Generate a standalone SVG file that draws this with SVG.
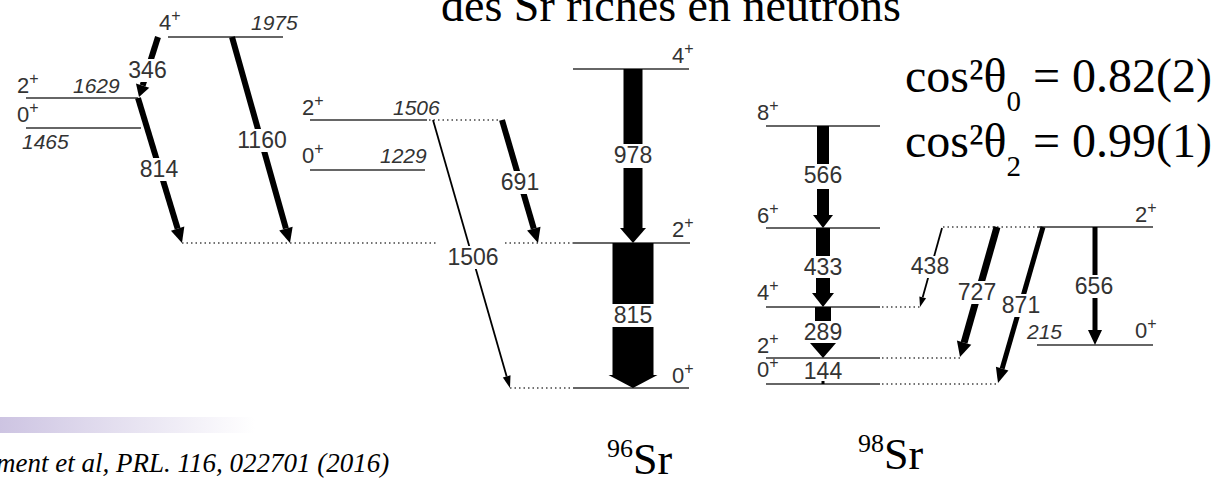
<svg xmlns="http://www.w3.org/2000/svg" width="1232" height="480" viewBox="0 0 1232 480">
<defs>
<linearGradient id="bar" x1="0" y1="0" x2="1" y2="0">
<stop offset="0" stop-color="#cdc4e2"/>
<stop offset="1" stop-color="#ffffff"/>
</linearGradient>
<style>
.lv{stroke:#333;stroke-width:1.5;fill:none}
.dot{stroke:#444;stroke-width:1.5;stroke-dasharray:1.5 3;fill:none}
.sp{font-family:"Liberation Sans",Arial,sans-serif;font-size:22px;fill:#333}
.sup{font-size:16px}
.en{font-family:"Liberation Sans",Arial,sans-serif;font-style:italic;font-size:21px;fill:#333}
.tl{font-family:"Liberation Sans",Arial,sans-serif;font-size:23px;fill:#333;text-anchor:middle}
.bg{fill:#fff}
.ar{fill:#000}
.serif{font-family:"Liberation Serif","DejaVu Serif","Times New Roman",serif;fill:#000}
.cite{font-family:"Liberation Serif","Times New Roman",serif;font-style:italic;fill:#000}
</style>
</defs>
<rect width="1232" height="480" fill="#fff"/>

<text class="serif" x="441" y="21" font-size="46">des Sr riches en neutrons</text>

<!-- 96Sr levels -->
<g id="lvl96-4p-1975">
<line class="lv" x1="168" y1="37" x2="283" y2="37"/>
<text class="sp" x="159" y="30">4<tspan class="sup" dy="-9">+</tspan></text>
<text class="en" x="251" y="30">1975</text>
</g>
<g id="lvl96-2p-1629">
<line class="lv" x1="26" y1="98" x2="138" y2="98"/>
<text class="sp" x="17" y="93">2<tspan class="sup" dy="-9">+</tspan></text>
<text class="en" x="73" y="93">1629</text>
</g>
<g id="lvl96-0p-1465">
<line class="lv" x1="26" y1="128" x2="141" y2="128"/>
<text class="sp" x="17" y="122">0<tspan class="sup" dy="-9">+</tspan></text>
<text class="en" x="22" y="149">1465</text>
</g>
<g id="lvl96-2p-1506">
<line class="lv" x1="310" y1="120" x2="427" y2="120"/>
<line class="dot" x1="429" y1="120" x2="500" y2="120"/>
<text class="sp" x="302" y="115">2<tspan class="sup" dy="-9">+</tspan></text>
<text class="en" x="393" y="115">1506</text>
</g>
<g id="lvl96-0p-1229">
<line class="lv" x1="310" y1="170" x2="425" y2="170"/>
<text class="sp" x="302" y="163">0<tspan class="sup" dy="-9">+</tspan></text>
<text class="en" x="380" y="163">1229</text>
</g>
<g id="lvl96-4p">
<line class="lv" x1="573" y1="69" x2="689" y2="69"/>
<text class="sp" x="672" y="63">4<tspan class="sup" dy="-9">+</tspan></text>
</g>
<g id="lvl96-2p">
<line class="dot" x1="182" y1="243" x2="438" y2="243"/>
<line class="dot" x1="505" y1="243" x2="573" y2="243"/>
<line class="lv" x1="573" y1="243" x2="690" y2="243"/>
<text class="sp" x="672" y="237">2<tspan class="sup" dy="-9">+</tspan></text>
</g>
<g id="lvl96-0p">
<line class="dot" x1="510" y1="388" x2="573" y2="388"/>
<line class="lv" x1="573" y1="388" x2="689" y2="388"/>
<text class="sp" x="672" y="383">0<tspan class="sup" dy="-9">+</tspan></text>
</g>

<!-- 98Sr levels -->
<g id="lvl98-8p">
<line class="lv" x1="766" y1="126" x2="880" y2="126"/>
<text class="sp" x="757" y="120">8<tspan class="sup" dy="-9">+</tspan></text>
</g>
<g id="lvl98-6p">
<line class="lv" x1="766" y1="228" x2="880" y2="228"/>
<text class="sp" x="757" y="223">6<tspan class="sup" dy="-9">+</tspan></text>
</g>
<g id="lvl98-4p">
<line class="lv" x1="766" y1="307" x2="880" y2="307"/>
<line class="dot" x1="882" y1="307" x2="920" y2="307"/>
<text class="sp" x="757" y="300">4<tspan class="sup" dy="-9">+</tspan></text>
</g>
<g id="lvl98-2p">
<line class="lv" x1="766" y1="358" x2="880" y2="358"/>
<line class="dot" x1="882" y1="358" x2="960" y2="358"/>
<text class="sp" x="757" y="353">2<tspan class="sup" dy="-9">+</tspan></text>
</g>
<g id="lvl98-0p">
<line class="lv" x1="766" y1="384" x2="880" y2="384"/>
<line class="dot" x1="882" y1="384" x2="998" y2="384"/>
<text class="sp" x="757" y="377">0<tspan class="sup" dy="-9">+</tspan></text>
</g>
<g id="lvl98-g2p">
<line class="dot" x1="943" y1="227" x2="1037" y2="227"/>
<line class="lv" x1="1037" y1="227" x2="1153" y2="227"/>
<text class="sp" x="1135" y="222">2<tspan class="sup" dy="-9">+</tspan></text>
</g>
<g id="lvl98-0p-215">
<line class="lv" x1="1037" y1="345" x2="1153" y2="345"/>
<text class="sp" x="1135" y="338">0<tspan class="sup" dy="-9">+</tspan></text>
<text class="en" x="1027" y="339">215</text>
</g>

<!-- transitions -->
<g id="connectors">
<g transform="translate(158 37) rotate(107.57)"><rect class="ar" x="0" y="-3" width="50.9" height="6"/><polygon class="ar" points="50.9,-7 62.9,0 50.9,7"/></g>
<g transform="translate(138 98) rotate(73.12)"><rect class="ar" x="0" y="-3" width="136.5" height="6"/><polygon class="ar" points="136.5,-7 151.5,0 136.5,7"/></g>
<g transform="translate(232 37) rotate(74.28)"><rect class="ar" x="0" y="-3" width="199" height="6"/><polygon class="ar" points="199,-7 214,0 199,7"/></g>
<g transform="translate(433 120) rotate(73.97)"><rect class="ar" x="0" y="-0.9" width="266.8" height="1.8"/><polygon class="ar" points="266.8,-4 278.8,0 266.8,4"/></g>
<g transform="translate(502 120) rotate(73.69)"><rect class="ar" x="0" y="-3" width="113.2" height="6"/><polygon class="ar" points="113.2,-7 128.2,0 113.2,7"/></g>
<rect class="ar" x="623.5" y="69" width="19" height="159"/><polygon class="ar" points="620,228 646,228 633,243"/>
<rect class="ar" x="612.5" y="243" width="41" height="132"/><polygon class="ar" points="608.5,375 657.5,375 633,388"/>
<rect class="ar" x="817" y="126" width="12" height="89"/><polygon class="ar" points="813,215 833,215 823,228"/>
<rect class="ar" x="816" y="228" width="14" height="65"/><polygon class="ar" points="812,293 834,293 823,307"/>
<rect class="ar" x="815" y="307" width="16" height="36"/><polygon class="ar" points="810,343 836,343 823,358"/>
<rect class="ar" x="821.5" y="381" width="3" height="3"/>
<g transform="translate(942 228) rotate(105.56)"><rect class="ar" x="0" y="-0.9" width="72" height="1.8"/><polygon class="ar" points="72,-3.5 82,0 72,3.5"/></g>
<g transform="translate(997 227) rotate(105.89)"><rect class="ar" x="0" y="-3.5" width="120.2" height="7"/><polygon class="ar" points="120.2,-7.5 135.2,0 120.2,7.5"/></g>
<g transform="translate(1043 227) rotate(106.09)"><rect class="ar" x="0" y="-2.5" width="147.4" height="5"/><polygon class="ar" points="147.4,-6.5 162.4,0 147.4,6.5"/></g>
<rect class="ar" x="1092.5" y="227" width="5" height="103"/><polygon class="ar" points="1088,330 1102,330 1095,345"/>

<rect class="bg" x="126" y="59" width="43" height="23"/><text class="tl" x="147.5" y="78">346</text>
<rect class="bg" x="139" y="158" width="40" height="23"/><text class="tl" x="159" y="177">814</text>
<rect class="bg" x="236" y="129" width="52" height="23"/><text class="tl" x="262" y="148">1160</text>
<rect class="bg" x="445" y="246" width="56" height="23"/><text class="tl" x="473" y="265">1506</text>
<rect class="bg" x="500" y="171" width="40" height="23"/><text class="tl" x="520" y="190">691</text>
<rect class="bg" x="610" y="144" width="46" height="24"/><text class="tl" x="633" y="163">978</text>
<rect class="bg" x="608" y="304" width="50" height="23"/><text class="tl" x="633" y="323">815</text>
<rect class="bg" x="800" y="164" width="46" height="25"/><text class="tl" x="823" y="183">566</text>
<rect class="bg" x="800" y="256" width="46" height="22"/><text class="tl" x="823" y="275">433</text>
<rect class="bg" x="800" y="321" width="46" height="22"/><text class="tl" x="823" y="340">289</text>
<text class="tl" x="823" y="379">144</text>
<rect class="bg" x="907" y="256" width="46" height="22"/><text class="tl" x="930" y="274">438</text>
<rect class="bg" x="955" y="281" width="44" height="23"/><text class="tl" x="977" y="300">727</text>
<rect class="bg" x="1000" y="294" width="42" height="23"/><text class="tl" x="1021" y="313">871</text>
<rect class="bg" x="1072" y="275" width="44" height="23"/><text class="tl" x="1094" y="294">656</text>
</g>

<g id="mixing">
<text class="serif" x="905" y="92" font-size="48">cos²θ<tspan font-size="29" dy="19">0</tspan><tspan dy="-19"> = 0.82(2)</tspan></text>
<text class="serif" x="905" y="157" font-size="48">cos²θ<tspan font-size="29" dy="19">2</tspan><tspan dy="-19"> = 0.99(1)</tspan></text>
</g>

<rect x="0" y="417" width="255" height="16" fill="url(#bar)"/>
<text class="cite" x="-4" y="472" font-size="27">ment et al, PRL. 116, 022701 (2016)</text>
<text class="serif" x="607" y="474" font-size="44"><tspan font-size="26" dy="-17">96</tspan><tspan dy="17">Sr</tspan></text>
<text class="serif" x="858" y="469" font-size="44"><tspan font-size="26" dy="-17">98</tspan><tspan dy="17">Sr</tspan></text>
</svg>
